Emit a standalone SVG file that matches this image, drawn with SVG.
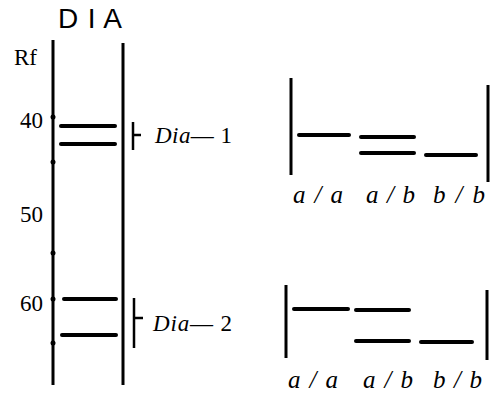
<svg xmlns="http://www.w3.org/2000/svg" width="493" height="396" viewBox="0 0 493 396">
<style>
.lane{stroke:#000;stroke-width:3;fill:none}
.band{stroke:#000;stroke-width:4;stroke-linecap:round}
.br{stroke:#000;stroke-width:2.5;fill:none}
.num{font-family:"Liberation Serif",serif;font-size:23px;fill:#000}
.lbl{font-family:"Liberation Serif",serif;font-size:25px;font-style:italic;fill:#000}
.dot{fill:#000}
</style>
<rect width="493" height="396" fill="#fff"/>
<text x="58" y="28" font-family="Liberation Sans,Arial,sans-serif" font-size="28" textLength="64" fill="#000">D I A</text>
<text class="num" x="14" y="65" font-size="26">Rf</text>
<text class="num" x="20" y="128">40</text>
<text class="num" x="20" y="222">50</text>
<text class="num" x="20" y="311">60</text>
<g id="gel">
<line class="lane" x1="53" y1="40" x2="53" y2="385"/>
<line class="lane" x1="123" y1="43" x2="123" y2="385"/>
<circle class="dot" cx="53" cy="117" r="2.5"/>
<circle class="dot" cx="53" cy="162" r="2.5"/>
<circle class="dot" cx="53" cy="253" r="2.5"/>
<circle class="dot" cx="53" cy="299" r="2.5"/>
<circle class="dot" cx="53" cy="343" r="2.5"/>
<line class="band" x1="61" y1="126" x2="115" y2="126"/>
<line class="band" x1="61" y1="144" x2="115" y2="144"/>
<line class="band" x1="64" y1="299" x2="116" y2="299"/>
<line class="band" x1="62" y1="335" x2="116" y2="335"/>
</g>
<g id="dia1">
<path class="br" d="M133 122V150M133 135H141"/>
<text x="155" y="143" class="num" textLength="77"><tspan font-style="italic">Dia</tspan>— 1</text>
</g>
<g id="dia2">
<path class="br" d="M134 298V348M134 318H143"/>
<text x="153" y="331" class="num" textLength="79"><tspan font-style="italic">Dia</tspan>— 2</text>
</g>
<g id="panel1">
<line class="lane" x1="291" y1="78" x2="291" y2="175"/>
<line class="lane" x1="488" y1="85" x2="488" y2="182"/>
<line class="band" x1="299" y1="135" x2="349" y2="135"/>
<line class="band" x1="361" y1="137" x2="414" y2="137"/>
<line class="band" x1="361" y1="153" x2="414" y2="153"/>
<line class="band" x1="426" y1="155" x2="476" y2="155"/>
<text class="lbl" x="293" y="203" textLength="50">a/a</text>
<text class="lbl" x="366" y="203" textLength="49">a/b</text>
<text class="lbl" x="433" y="203" textLength="52">b/b</text>
</g>
<g id="panel2">
<line class="lane" x1="286" y1="285" x2="286" y2="358"/>
<line class="lane" x1="487" y1="290" x2="487" y2="360"/>
<line class="band" x1="294" y1="309" x2="348" y2="309"/>
<line class="band" x1="356" y1="310" x2="409" y2="310"/>
<line class="band" x1="356" y1="341" x2="409" y2="341"/>
<line class="band" x1="421" y1="342" x2="472" y2="342"/>
<text class="lbl" x="288" y="388" textLength="50">a/a</text>
<text class="lbl" x="363" y="388" textLength="50">a/b</text>
<text class="lbl" x="433" y="388" textLength="49">b/b</text>
</g>
</svg>
